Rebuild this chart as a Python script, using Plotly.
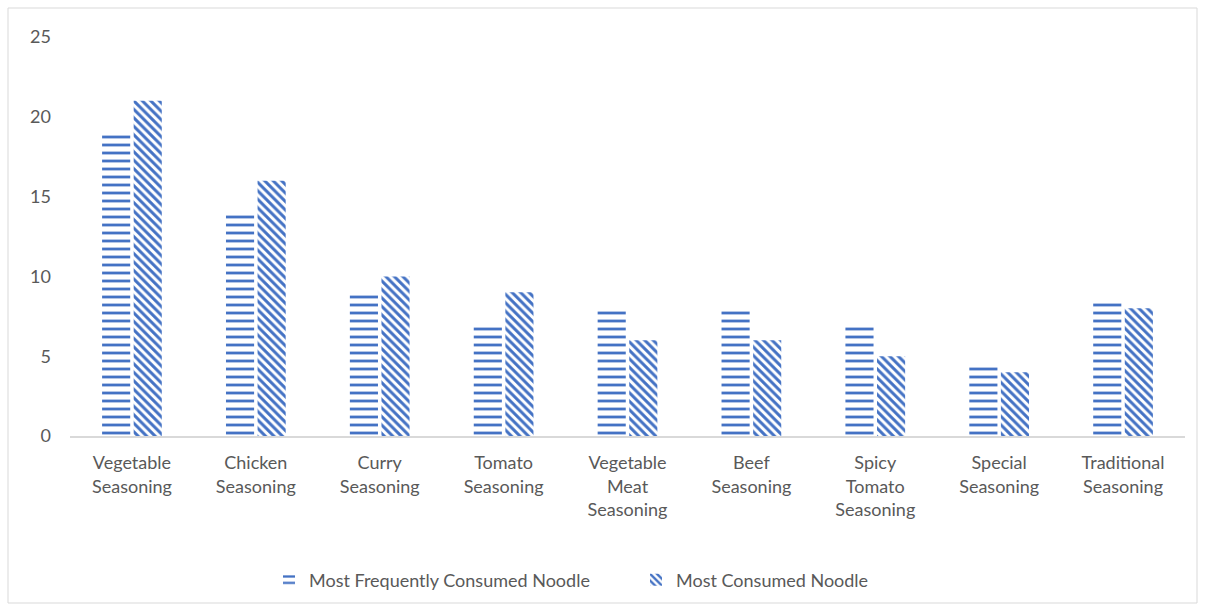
import plotly.graph_objects as go

categories = ["Vegetable<br>Seasoning", "Chicken<br>Seasoning", "Curry<br>Seasoning",
              "Tomato<br>Seasoning", "Vegetable<br>Meat<br>Seasoning", "Beef<br>Seasoning",
              "Spicy<br>Tomato<br>Seasoning", "Special<br>Seasoning", "Traditional<br>Seasoning"]
most_frequent = [19, 14, 9, 7, 8, 8, 7, 4.5, 8.5]
most_consumed = [21, 16, 10, 9, 6, 6, 5, 4, 8]
y_ticks = [0, 5, 10, 15, 20, 25]

BLUE = "#4472C4"
GRAY = "#595959"
FONT = "Lato"

fig = go.Figure()
fig.add_trace(go.Bar(
    x=categories, y=most_frequent, name="Most Frequently Consumed Noodle",
    marker=dict(color="white", line=dict(width=0),
                pattern=dict(shape="-", fgcolor=BLUE, bgcolor="white", fgopacity=1,
                             size=8, solidity=0.35)),
))
fig.add_trace(go.Bar(
    x=categories, y=most_consumed, name="Most Consumed Noodle",
    marker=dict(color="white", line=dict(width=0),
                pattern=dict(shape="\\", fgcolor=BLUE, bgcolor="white", fgopacity=1,
                             size=6, solidity=0.5)),
))

L, R, T, B = 70, 20, 37, 175
W, H = 1205, 611
pw = W - L - R
ph = H - T - B

fig.update_layout(
    width=W, height=H,
    margin=dict(l=L, r=R, t=T, b=B),
    paper_bgcolor="white", plot_bgcolor="white",
    barmode="group", bargap=0.49, bargroupgap=0.11,
    font=dict(family=FONT, size=18, color=GRAY),
    showlegend=True,
    legend=dict(orientation="h", x=(283 - L - 14) / pw, xanchor="left",
                y=(436 - 580) / ph, yanchor="middle",
                font=dict(family=FONT, size=18, color=GRAY), itemwidth=30,
                entrywidth=322, entrywidthmode="pixels",
                traceorder="normal"),
    xaxis=dict(showline=True, linecolor="#D9D9D9", linewidth=1.5, showgrid=False,
               ticks="", ticklabelstandoff=10,
               tickfont=dict(family=FONT, size=18, color=GRAY)),
    yaxis=dict(range=[0, 25], tickvals=y_ticks, showgrid=False, zeroline=False,
               showline=False, ticks="", ticklabelstandoff=18,
               tickfont=dict(family=FONT, size=18, color=GRAY)),
    shapes=[dict(type="rect", xref="paper", yref="paper",
                 x0=(8 - L) / pw, x1=(1197 - L) / pw,
                 y0=(H - B - 603) / ph, y1=(H - B - 8) / ph,
                 line=dict(color="#D9D9D9", width=1), fillcolor="rgba(0,0,0,0)", layer="below")],
)

fig.write_html("out.html")
